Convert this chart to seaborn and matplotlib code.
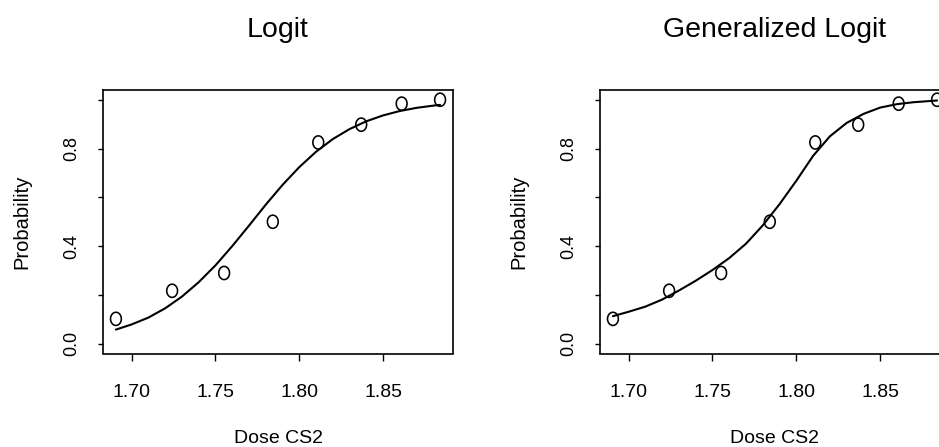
import numpy as np
import pandas as pd
import matplotlib
matplotlib.use("Agg")
import matplotlib.pyplot as plt
from matplotlib.path import Path
import seaborn as sns

# ---- data ----
dose = [1.6907, 1.7242, 1.7552, 1.7842, 1.8113, 1.8369, 1.8610, 1.8839]
observed = [0.102, 0.217, 0.290, 0.500, 0.825, 0.898, 0.984, 1.000]

curve_dose = [1.6907, 1.70, 1.71, 1.72, 1.73, 1.74, 1.75, 1.76, 1.77, 1.78,
              1.79, 1.80, 1.81, 1.82, 1.83, 1.84, 1.85, 1.86, 1.87, 1.88, 1.8839]
logit_curve = [0.058, 0.079, 0.107, 0.145, 0.193, 0.252, 0.321, 0.400, 0.484, 0.570,
               0.651, 0.724, 0.787, 0.839, 0.880, 0.912, 0.936, 0.954, 0.967, 0.976, 0.979]
glogit_curve = [0.113, 0.131, 0.152, 0.181, 0.218, 0.258, 0.302, 0.351, 0.410, 0.485,
                0.572, 0.668, 0.770, 0.850, 0.905, 0.942, 0.968, 0.982, 0.990, 0.995, 0.997]

titles = ["Logit", "Generalized Logit"]
xticks = [1.70, 1.75, 1.80, 1.85]
xtick_labels = ["1.70", "1.75", "1.80", "1.85"]
yticks = [0.0, 0.2, 0.4, 0.6, 0.8, 1.0]
ytick_labels = ["0.0", "", "0.4", "", "0.8", ""]

# ---- style ----
sns.set_theme(style="white")
plt.rcParams["font.family"] = ["Liberation Sans", "DejaVu Sans"]
for k in ["text.color", "axes.labelcolor", "xtick.color", "ytick.color"]:
    plt.rcParams[k] = "black"

W, H = 939, 447
fig = plt.figure(figsize=(W / 100, H / 100), dpi=100)

# ellipse-shaped open marker (like R pch=1 in the scan)
t = np.linspace(0, 2 * np.pi, 60)
ell = Path(np.column_stack([0.82 * np.cos(t), np.sin(t)]), closed=True)

pts = pd.DataFrame({"dose": dose, "p": observed})
curves = [pd.DataFrame({"dose": curve_dose, "p": logit_curve}),
          pd.DataFrame({"dose": curve_dose, "p": glogit_curve})]

ax_left_px = [103, 600]
ax_w_px = 350
ax_top_px, ax_bot_px = 90, 353.5
ax_h_px = ax_bot_px - ax_top_px

for i in range(2):
    ax = fig.add_axes([ax_left_px[i] / W, 1 - ax_bot_px / H,
                       ax_w_px / W, ax_h_px / H])
    sns.lineplot(data=curves[i], x="dose", y="p", ax=ax, color="black",
                 linewidth=1.5, estimator=None, sort=False)
    sns.scatterplot(data=pts, x="dose", y="p", ax=ax, marker=ell, s=90,
                    facecolor="none", edgecolor="black", linewidth=1.15, zorder=3)
    ax.set_xlim(1.683, 1.8916)
    ax.set_ylim(-0.04, 1.04)
    ax.set_xticks(xticks)
    ax.set_xticklabels(xtick_labels, fontsize=14)
    ax.set_yticks(yticks)
    ax.set_yticklabels(ytick_labels, fontsize=13, rotation=90, va="center")
    ax.tick_params(axis="x", direction="out", length=5, width=1, pad=17,
                   color="black", bottom=True)
    ax.tick_params(axis="y", direction="out", length=3.6, width=1, pad=13,
                   color="black", left=True)
    for sp in ax.spines.values():
        sp.set_visible(True)
        sp.set_color("black")
        sp.set_linewidth(1.2)
    ax.set_xlabel("Dose CS2", fontsize=14)
    ax.set_ylabel("Probability", fontsize=14.5)
    ax.xaxis.set_label_coords(0.5, -0.29)
    ax.yaxis.set_label_coords(-0.205, 0.5)
    ax.set_title(titles[i], fontsize=20.5, color="black", pad=0,
                 y=1 + (ax_top_px - 37) / ax_h_px, va="baseline")

fig.savefig("out.png", dpi=100)
